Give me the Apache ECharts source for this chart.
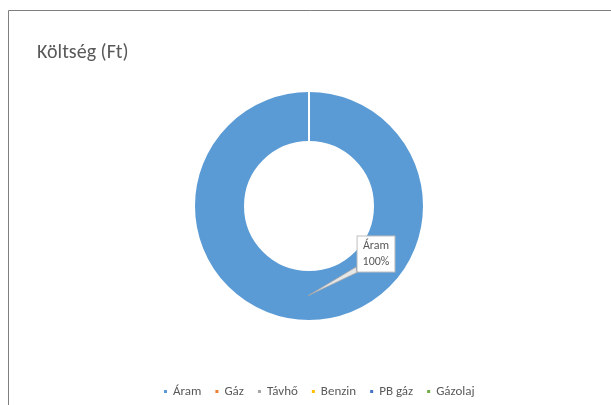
<!DOCTYPE html>
<html>
<head>
<meta charset="utf-8">
<script src="https://cdn.jsdelivr.net/npm/echarts@6/dist/echarts.min.js"></script>
<style>
html,body{margin:0;padding:0;background:#fff;}
#chart{width:611px;height:405px;}
</style>
</head>
<body>
<div id="chart"></div>
<script>
const titleText = 'Költség (Ft)';
const categories = ['Áram', 'Gáz', 'Távhő', 'Benzin', 'PB gáz', 'Gázolaj'];
const values = [100, 0, 0, 0, 0, 0];
const colors = ['#5B9BD5', '#ED7D31', '#A5A5A5', '#FFC000', '#4472C4', '#70AD47'];

const FONT = "Carlito, Calibri, 'Liberation Sans Narrow', 'Open Sans', sans-serif";
const TXT = '#595959';

const chart = echarts.init(document.getElementById('chart'), null, {renderer: 'canvas'});

const data = categories.map((name, i) => ({
  name: name,
  value: values[i],
  label: {show: values[i] > 0}
}));

chart.setOption({
  animation: false,
  color: colors,
  title: {
    text: titleText,
    left: 32,
    top: 38,
    textStyle: {fontFamily: FONT, fontSize: 20, fontWeight: 'normal', color: TXT}
  },
  graphic: [{
    id: 'frame',
    type: 'rect',
    shape: {x: 8.5, y: 10.5, width: 700, height: 500},
    style: {fill: 'none', stroke: '#7F7F7F', lineWidth: 1},
    silent: true
  }],
  legend: {
    bottom: 2,
    left: 157,
    itemWidth: 5,
    itemHeight: 5,
    itemGap: 12,
    icon: 'rect',
    textStyle: {fontFamily: FONT, fontSize: 13, color: TXT},
    data: categories
  },
  series: [{
    type: 'pie',
    center: [309, 206],
    radius: [64, 115],
    startAngle: 90,
    clockwise: true,
    avoidLabelOverlap: false,
    itemStyle: {borderColor: '#fff', borderWidth: 2},
    emphasis: {disabled: true},
    label: {
      position: 'outside',
      formatter: '{b}\n{d}%',
      fontFamily: FONT,
      fontSize: 12,
      lineHeight: 16,
      color: TXT,
      backgroundColor: '#fff',
      borderColor: '#BFBFBF',
      borderWidth: 1,
      padding: [2, 5, 1, 5]
    },
    labelLine: {show: false},
    labelLayout: function (p) {
      const cx = p.rect.x + p.rect.width / 2;
      const cy = p.rect.y + p.rect.height / 2;
      return {
        x: cx + 67,
        y: cy + 48,
        align: 'center',
        verticalAlign: 'middle'
      };
    },
    data: data
  }]
});

// Callout wedge from the slice's layout (computed by ECharts)
let lay = null;
try {
  lay = chart.getModel().getSeriesByIndex(0).getData().getItemLayout(0);
} catch (e) { lay = null; }
if (lay) {
  const cx = lay.cx, cy = lay.cy;
  const rm = (lay.r + lay.r0) / 2;
  chart.setOption({
    graphic: [{
      id: 'callout',
      type: 'polygon',
      z: 10,
      shape: {points: [[cx - 0.5, cy + rm], [cx + 47, cy + 61], [cx + 48, cy + 66.5]]},
      style: {fill: '#E6E6E6', stroke: '#A6A6A6', lineWidth: 0.8},
      silent: true
    }]
  });
}
</script>
</body>
</html>
